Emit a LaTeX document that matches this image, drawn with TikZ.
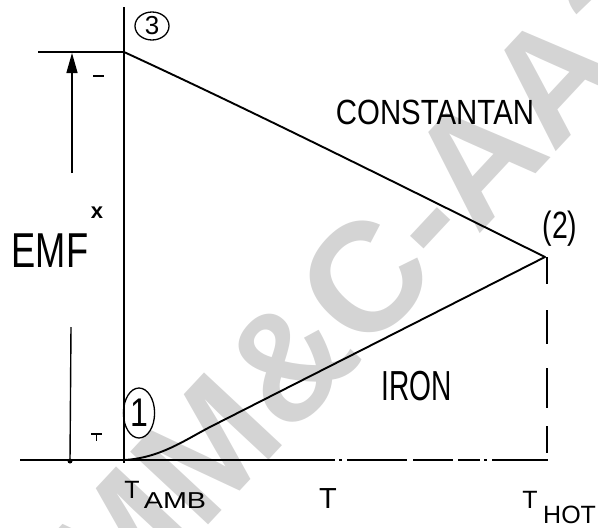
\documentclass[tikz,border=0pt]{standalone}
\usepackage{fontspec}
\setmainfont{Liberation Sans}
\usetikzlibrary{arrows.meta,shapes.geometric}
\definecolor{wmgray}{RGB}{212,212,212}
\tikzset{
  curve/.style={line width=1.9pt, line cap=round},
  axis/.style={line width=1.6pt},
  lbl/.style={inner sep=0pt, anchor=base},
  wm/.style={text=wmgray, inner sep=0pt, font=\fontsize{155}{155}\selectfont\bfseries},
}
\begin{document}
\begin{tikzpicture}[x=1pt,y=-1pt]
\useasboundingbox (0,0) rectangle (598,528);
% watermark
\node[wm, rotate=47] (wmark) at (362,282) {MM\&C-AA2};
% key points
\coordinate (axtop) at (124,7);
\coordinate (axbot) at (124,463);
\coordinate (P3) at (124,52);
\coordinate (P1) at (124,460);
\coordinate (P2) at (545,257);
\coordinate (topL) at (38,52);
\coordinate (botL) at (20,460);
\coordinate (botM) at (313,460);
\coordinate (botR) at (548,460);
\coordinate (hotTop) at (547,257);
\coordinate (hotBot) at (547,462);
\coordinate (arrBot) at (72,173);
\coordinate (arrTop) at (72,53);
\coordinate (arrLowTop) at (71,327);
\coordinate (arrLowBot) at (70,461);
% axes
\draw[axis] (axtop) -- (axbot);
\draw[axis] (topL) -- (P3);
\draw[axis] (botL) -- (botM);
\draw[axis, dash pattern=on 22pt off 4pt on 3pt off 5pt on 60pt off 6pt on 40pt off 5pt] (botM) -- (botR);
\draw[axis, line width=1.4pt, dash pattern=on 27pt off 26pt on 34pt off 24pt on 40pt off 18pt] (hotTop) -- (hotBot);
% EMF arrow
\draw[line width=1.4pt, -{Triangle[length=20pt,width=11pt]}] (arrBot) -- (arrTop);
\draw[line width=1.4pt] (arrLowTop) -- (arrLowBot);
\fill (arrLowBot) circle (2.5pt);
% curves
\draw[curve] (P3) .. controls (250,110) and (390,180) .. (P2);
\draw[curve] (P1) .. controls (160,458) and (185,440) .. (210,427) -- (P2);
% signs
\draw[line width=1.6pt] (93,76) -- (104,76);
\draw[line width=1.4pt] (91,434) -- (102,434);
\draw[line width=1.4pt] (96.5,434) -- (96.5,441);
% labels
\node[draw, ellipse, line width=1.3pt, minimum width=34pt, minimum height=28pt, inner sep=0pt,
      font=\fontsize{26}{26}\selectfont] (n3) at (152,26) {3};
\node[draw, ellipse, line width=1.3pt, minimum width=39pt, minimum height=50pt, inner sep=0pt,
      font=\fontsize{40}{40}\selectfont, xscale=0.8] (n1) at (139,413) {1};
\node[inner sep=0pt, font=\fontsize{38}{38}\selectfont, xscale=0.75] (n2) at (560,229) {(2)};
\node[lbl, font=\fontsize{35}{35}\selectfont, xscale=0.84] (cons) at (435,124) {CONSTANTAN};
\node[lbl, font=\fontsize{42}{42}\selectfont, xscale=0.67] (iron) at (417,400) {IRON};
\node[lbl, font=\fontsize{49}{49}\selectfont, xscale=0.74] (emf) at (50,267) {EMF};
\node[lbl, font=\fontsize{22}{22}\selectfont\bfseries] (star) at (97,218) {x};
\node[lbl, font=\fontsize{29}{29}\selectfont] (tt) at (328,508) {T};
\node[lbl, font=\fontsize{25}{25}\selectfont] (tamb1) at (132,498) {T};
\node[lbl, font=\fontsize{23}{23}\selectfont, xscale=1.25] (tamb2) at (175,508) {AMB};
\node[lbl, font=\fontsize{25}{25}\selectfont] (thot1) at (530,508) {T};
\node[lbl, font=\fontsize{25}{25}\selectfont, anchor=base west] (thot2) at (543,523) {HOT};
\end{tikzpicture}
\end{document}
